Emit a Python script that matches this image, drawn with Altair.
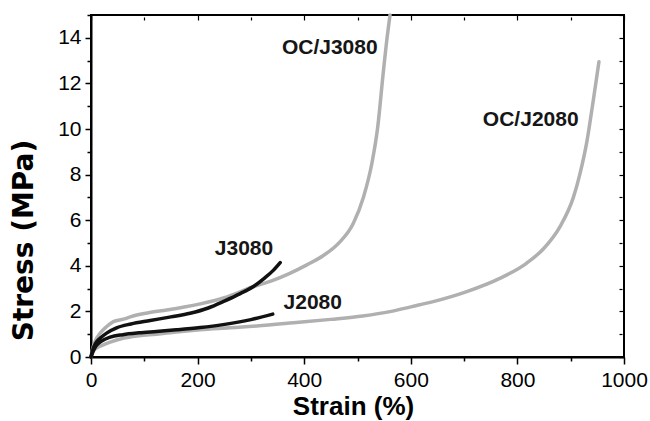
import altair as alt
import pandas as pd

# ---- data ----
oc3_strain = [0, 3, 8, 17, 30, 42, 61, 79, 110, 142, 175, 205, 250, 304, 340, 373, 405, 436, 467, 492, 511, 527, 538, 548, 556, 561]
oc3_stress = [0, 0.35, 0.7, 1.04, 1.35, 1.55, 1.66, 1.8, 1.95, 2.06, 2.19, 2.33, 2.6, 3.08, 3.35, 3.67, 4.04, 4.45, 5.05, 5.86, 7.0, 8.5, 10.1, 12.4, 14.1, 15.0]

oc2_strain = [0, 4, 12, 20, 36, 60, 90, 123, 160, 205, 260, 311, 380, 450, 510, 561, 600, 642, 705, 767, 817, 849, 880, 905, 917, 930, 942, 953]
oc2_stress = [0, 0.25, 0.42, 0.5, 0.65, 0.82, 0.93, 1.0, 1.1, 1.2, 1.28, 1.36, 1.5, 1.65, 1.8, 1.99, 2.2, 2.43, 2.87, 3.45, 4.11, 4.75, 5.72, 7.0, 8.0, 9.4, 11.2, 12.95]

j3_strain = [0, 3, 8, 17, 30, 48, 75, 111, 150, 186, 220, 250, 280, 304, 325, 342, 355]
j3_stress = [0, 0.3, 0.58, 0.82, 1.06, 1.28, 1.45, 1.6, 1.76, 1.92, 2.15, 2.45, 2.78, 3.08, 3.45, 3.8, 4.14]

j2_strain = [0, 4, 10, 20, 36, 60, 90, 123, 160, 205, 248, 300, 341]
j2_stress = [0, 0.25, 0.5, 0.7, 0.87, 0.98, 1.06, 1.12, 1.19, 1.29, 1.42, 1.64, 1.88]

series_names = ["OC/J3080", "OC/J2080", "J3080", "J2080"]
series_colors = ["#b0b0b0", "#b0b0b0", "#111111", "#111111"]
series_widths = [3.5, 3.5, 4.5, 3.5]

label_text = ["OC/J3080", "OC/J2080", "J3080", "J2080"]
label_strain = [448, 825, 287, 416]
label_stress = [13.54, 10.4, 4.75, 2.35]

x_ticks = list(range(0, 1001, 100))
y_ticks = list(range(0, 16, 1))

# ---- build tables ----
frames = []
for name, xs, ys in [
    ("OC/J3080", oc3_strain, oc3_stress),
    ("OC/J2080", oc2_strain, oc2_stress),
    ("J3080", j3_strain, j3_stress),
    ("J2080", j2_strain, j2_stress),
]:
    frames.append(pd.DataFrame({"strain": xs, "stress": ys, "sample": name}))
curves = pd.concat(frames, ignore_index=True)
labels = pd.DataFrame({"strain": label_strain, "stress": label_stress, "text": label_text})

FONT = "Liberation Sans"

x_scale = alt.Scale(domain=[0, 1000], nice=False, zero=False)
y_scale = alt.Scale(domain=[0, 15], nice=False, zero=False)

x_major = "datum.value % 200 === 0"
y_major = "datum.value % 2 === 0"

x_axis = alt.Axis(
    orient="bottom",
    title="Strain (%)",
    values=x_ticks,
    format="d",
    labelExpr="datum.value % 200 === 0 ? datum.label : ''",
    tickSize={"condition": {"test": x_major, "value": 7}, "value": 4},
    tickWidth=1.5,
    tickColor="black",
    domainColor="black",
    domainWidth=2,
    grid=False,
    labelFont=FONT,
    labelFontSize=21,
    labelColor="black",
    labelPadding=5,
    labelFlush=False,
    titleFont=FONT,
    titleFontSize=26,
    titleFontWeight="bold",
    titleColor="black",
    titleX=262,
    titleY=49,
    titleAlign="center",
    titleBaseline="middle",
)
y_axis = alt.Axis(
    orient="left",
    title="Stress (MPa)",
    values=y_ticks,
    labelExpr="datum.value % 2 === 0 ? datum.label : ''",
    tickSize={"condition": {"test": y_major, "value": 6}, "value": 4},
    tickWidth=1.5,
    tickColor="black",
    domainColor="black",
    domainWidth=2,
    grid=False,
    labelFont=FONT,
    labelFontSize=21,
    labelColor="black",
    labelPadding=4,
    labelFlush=False,
    titleFont="DejaVu Sans",
    titleFontSize=28,
    titleFontWeight="bold",
    titleColor="black",
    titleX=-67,
    titleY=225,
    titleAlign="center",
    titleBaseline="middle",
)

# mirrored inward ticks on the top and right frame
x_axis_top = alt.Axis(
    orient="top", values=x_ticks, labels=False, title=None, domain=False, grid=False,
    offset=-5, tickSize={"condition": {"test": x_major, "value": 5}, "value": 3},
    tickColor="black", tickWidth=1.2,
)
y_axis_right = alt.Axis(
    orient="right", values=y_ticks, labels=False, title=None, domain=False, grid=False,
    offset=-5, tickSize={"condition": {"test": y_major, "value": 5}, "value": 3},
    tickColor="black", tickWidth=1.2,
)

lines = alt.Chart(curves).mark_line(interpolate="monotone", strokeCap="round").encode(
    x=alt.X("strain:Q", scale=x_scale, axis=x_axis),
    y=alt.Y("stress:Q", scale=y_scale, axis=y_axis),
    color=alt.Color("sample:N", scale=alt.Scale(domain=series_names, range=series_colors), legend=None),
    strokeWidth=alt.StrokeWidth("sample:N", scale=alt.Scale(domain=series_names, range=series_widths), legend=None),
    order=alt.Order("strain:Q"),
    detail="sample:N",
)

texts = alt.Chart(labels).mark_text(
    font=FONT, fontSize=21, fontWeight="bold", color="#161616", align="center", baseline="middle"
).encode(
    x=alt.X("strain:Q", scale=x_scale, axis=x_axis_top),
    y=alt.Y("stress:Q", scale=y_scale, axis=y_axis_right),
    text="text:N",
)

chart = alt.layer(lines, texts).resolve_axis(x="independent", y="independent").properties(
    width=533,
    height=342,
    autosize=alt.AutoSizeParams(type="none"),
    padding={"left": 91, "top": 15, "right": 26, "bottom": 64},
    background="white",
).configure_view(stroke="black", strokeWidth=2)

chart.save("out.html", embed_options={"renderer": "svg", "actions": False})
